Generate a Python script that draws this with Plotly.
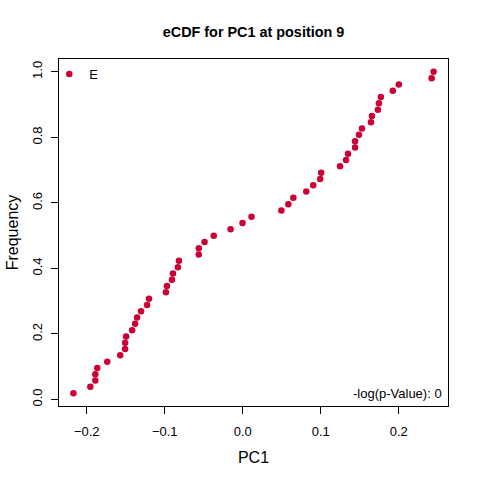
import plotly.graph_objects as go

# PC1 values (sorted) for group E
pc1 = [
    -0.2171, -0.1954, -0.1890, -0.1890, -0.1865, -0.1737, -0.1571, -0.1508,
    -0.1508, -0.1495, -0.1418, -0.1380, -0.1355, -0.1304, -0.1227, -0.1202,
    -0.0985, -0.0972, -0.0908, -0.0895, -0.0832, -0.0819, -0.0564, -0.0564,
    -0.0490, -0.0372, -0.0156, -0.0003, 0.0112, 0.0495, 0.0584, 0.0648,
    0.0814, 0.0903, 0.0992, 0.1005, 0.1247, 0.1324, 0.1349, 0.1439,
    0.1439, 0.1490, 0.1528, 0.1643, 0.1656, 0.1732, 0.1745, 0.1770,
    0.1923, 0.2000, 0.2421, 0.2446,
]
n = len(pc1)
freq = [(i + 1) / n for i in range(n)]

group = "E"
pval_text = "-log(p-Value): 0"
x_ticks = [-0.2, -0.1, 0.0, 0.1, 0.2]
y_ticks = [0.0, 0.2, 0.4, 0.6, 0.8, 1.0]

red = "#CC0033"
font = "Liberation Sans, Arial, sans-serif"


# R-style axis padding (4% of data range on each side)
def pad(lo, hi):
    d = (hi - lo) * 0.04
    return [lo - d, hi + d]


fig = go.Figure()
fig.add_trace(go.Scatter(
    x=pc1, y=freq,
    mode="markers",
    marker=dict(size=6.5, color=red),
    name=group,
    showlegend=True,
    cliponaxis=False,
))

fig.add_annotation(
    text=pval_text, xref="paper", yref="paper",
    x=0.989, y=0.037, xanchor="right", yanchor="middle",
    showarrow=False, font=dict(size=13, color="black", family=font),
)

axis_common = dict(
    showgrid=False, zeroline=False, automargin=False,
    showline=True, linecolor="black", linewidth=1, mirror=True,
    ticks="outside", ticklen=7, tickwidth=1, tickcolor="black",
    tickfont=dict(size=13, color="black", family=font),
)

fig.update_layout(
    template="none",
    width=480, height=480,
    margin=dict(l=59, r=32, t=59, b=74),
    plot_bgcolor="white", paper_bgcolor="white",
    font=dict(family=font, size=13, color="black"),
    title=dict(
        text="<b>eCDF for PC1 at position 9</b>",
        x=0.5, xref="paper", xanchor="center",
        y=1 - 32 / 480, yref="container", yanchor="middle",
        font=dict(size=14.4, color="black", family=font),
    ),
    xaxis=dict(
        axis_common,
        range=pad(min(pc1), max(pc1)),
        tickvals=x_ticks, tickformat=".1f", ticklabelstandoff=6,
        title=dict(text="PC1", standoff=14),
    ),
    yaxis=dict(
        axis_common,
        range=pad(min(freq), max(freq)),
        tickvals=y_ticks, tickformat=".1f", tickangle=-90,
        ticklabelstandoff=4,
        title=dict(text="Frequency", standoff=7),
    ),
    legend=dict(
        x=-0.025, y=1.0, xanchor="left", yanchor="top",
        bgcolor="rgba(0,0,0,0)", borderwidth=0,
        font=dict(size=13, color="black", family=font),
        itemwidth=30,
    ),
)

# drop the browser's default 8px body margin so the 480px figure fills the window
fig.write_html(
    "out.html",
    config={"displayModeBar": False},
    post_script="document.body.style.margin = '0';",
)
